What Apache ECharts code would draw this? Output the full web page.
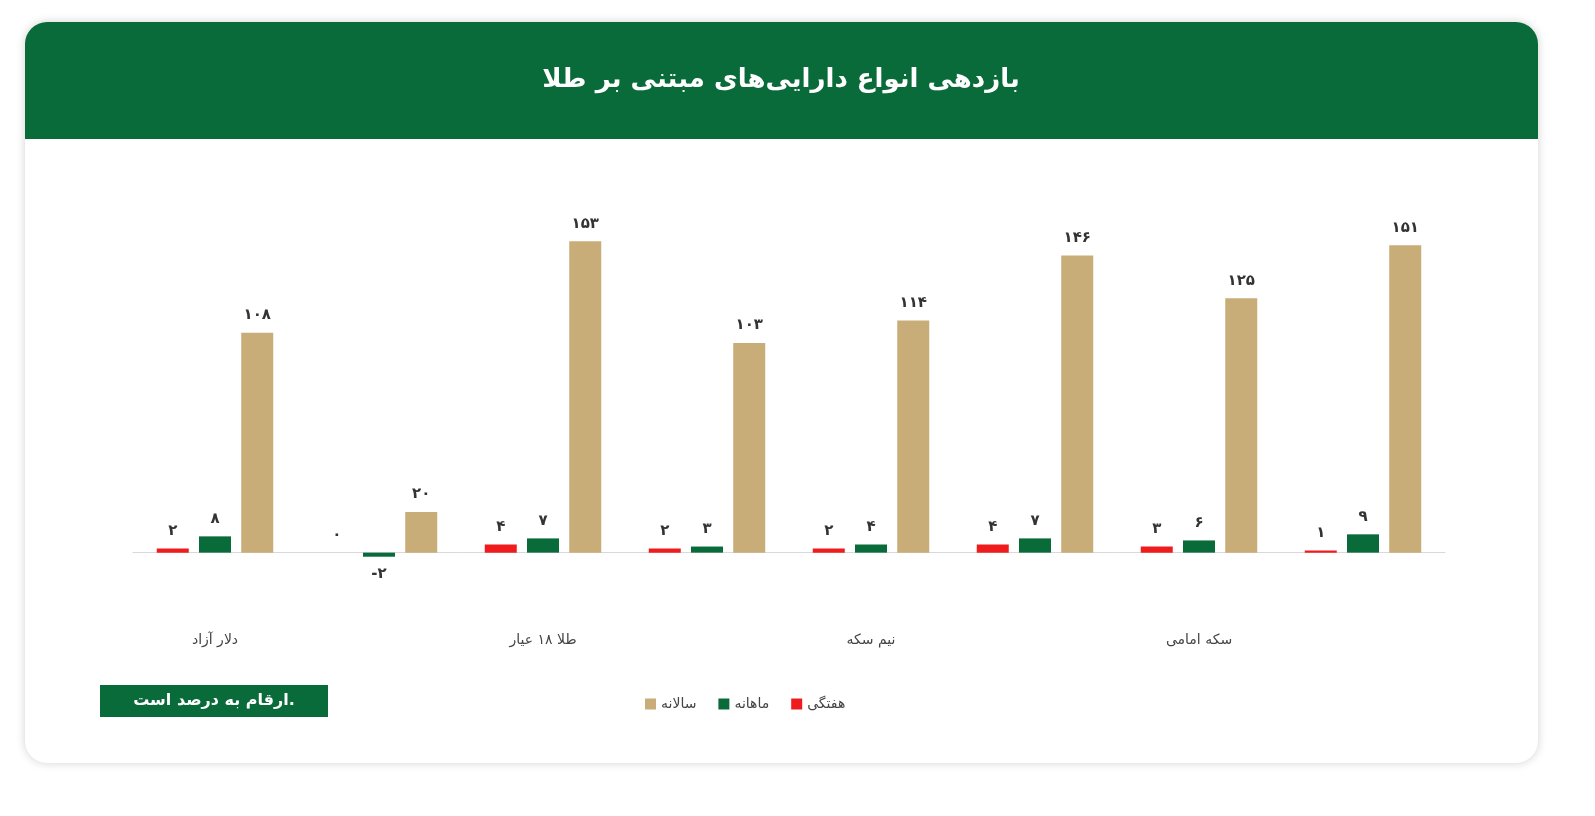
<!DOCTYPE html>
<html><head><meta charset="utf-8">
<script src="https://cdn.jsdelivr.net/npm/echarts@6/dist/echarts.min.js"></script>
<style>html,body{margin:0;padding:0;background:#fff}#c{width:1595px;height:816px}</style>
</head><body><div id="c"></div>
<script>
const categories = ['دلار آزاد','اونس جهانی طلا','طلا ۱۸ عیار','ربع سکه','نیم سکه','سکه بهار آزادی','سکه امامی','میانگین صندوق‌های طلا'];
const weekly = [2,0,4,2,2,4,3,1];
const monthly = [8,-2,7,3,4,7,6,9];
const yearly = [108,20,153,103,114,146,125,151];
const seriesNames = ['هفتگی','ماهانه','سالانه'];
const colors = ['#ee1c1c','#0a6b3a','#c9ad78'];
const fa = v => String(v).replace(/[0-9]/g, d => '۰۱۲۳۴۵۶۷۸۹'[d]);
const FONT = 'DejaVu Sans';
function mk(arr){return arr.map(v=>({value:v,label:{position:v<0?'bottom':'top'}}));}
const chart = echarts.init(document.getElementById('c'));
chart.setOption({
  textStyle:{fontFamily:FONT},
  graphic:[
    {type:'rect',z:-10,shape:{x:25,y:22,width:1513,height:741,r:22},style:{fill:'#fff',shadowBlur:10,shadowColor:'rgba(0,0,0,0.18)'}},
    {type:'rect',z:-9,shape:{x:25,y:22,width:1513,height:117,r:[22,22,0,0]},style:{fill:'#0a6b3a'}},
    {type:'text',z:-8,x:781,y:80,style:{text:'بازدهی انواع دارایی‌های مبتنی بر طلا',fill:'#fff',font:'bold 26px "DejaVu Sans"',align:'center',verticalAlign:'middle'}},
    {type:'rect',z:-8,shape:{x:100,y:685,width:228,height:32},style:{fill:'#0a6b3a'}},
    {type:'text',z:-7,x:214,y:701,style:{text:'ارقام به درصد است.',fill:'#fff',font:'bold 16px "DejaVu Sans"',align:'center',verticalAlign:'middle'}}
  ],
  color:colors,
  legend:{data:seriesNames.slice().reverse(),left:640,top:692,itemWidth:11,itemHeight:11,itemGap:22,icon:'rect',textStyle:{fontFamily:FONT,fontSize:14,color:'#444'}},
  grid:{left:133,right:150,top:227,bottom:243},
  xAxis:{type:'category',data:categories,axisTick:{show:false},axisLine:{onZero:true,lineStyle:{color:'#d9d9d9'}},axisLabel:{margin:60,fontFamily:FONT,fontSize:14,color:'#444'}},
  yAxis:{type:'value',min:-10,max:160,show:false,splitLine:{show:false}},
  series:[weekly,monthly,yearly].map((d,i)=>({
    name:seriesNames[i],type:'bar',barWidth:32,barGap:'32%',data:mk(d),
    label:{show:true,distance:10,formatter:p=>fa(p.value).replace('-','-'),fontFamily:FONT,fontSize:15,fontWeight:'bold',color:'#333'}
  }))
});
</script></body></html>
